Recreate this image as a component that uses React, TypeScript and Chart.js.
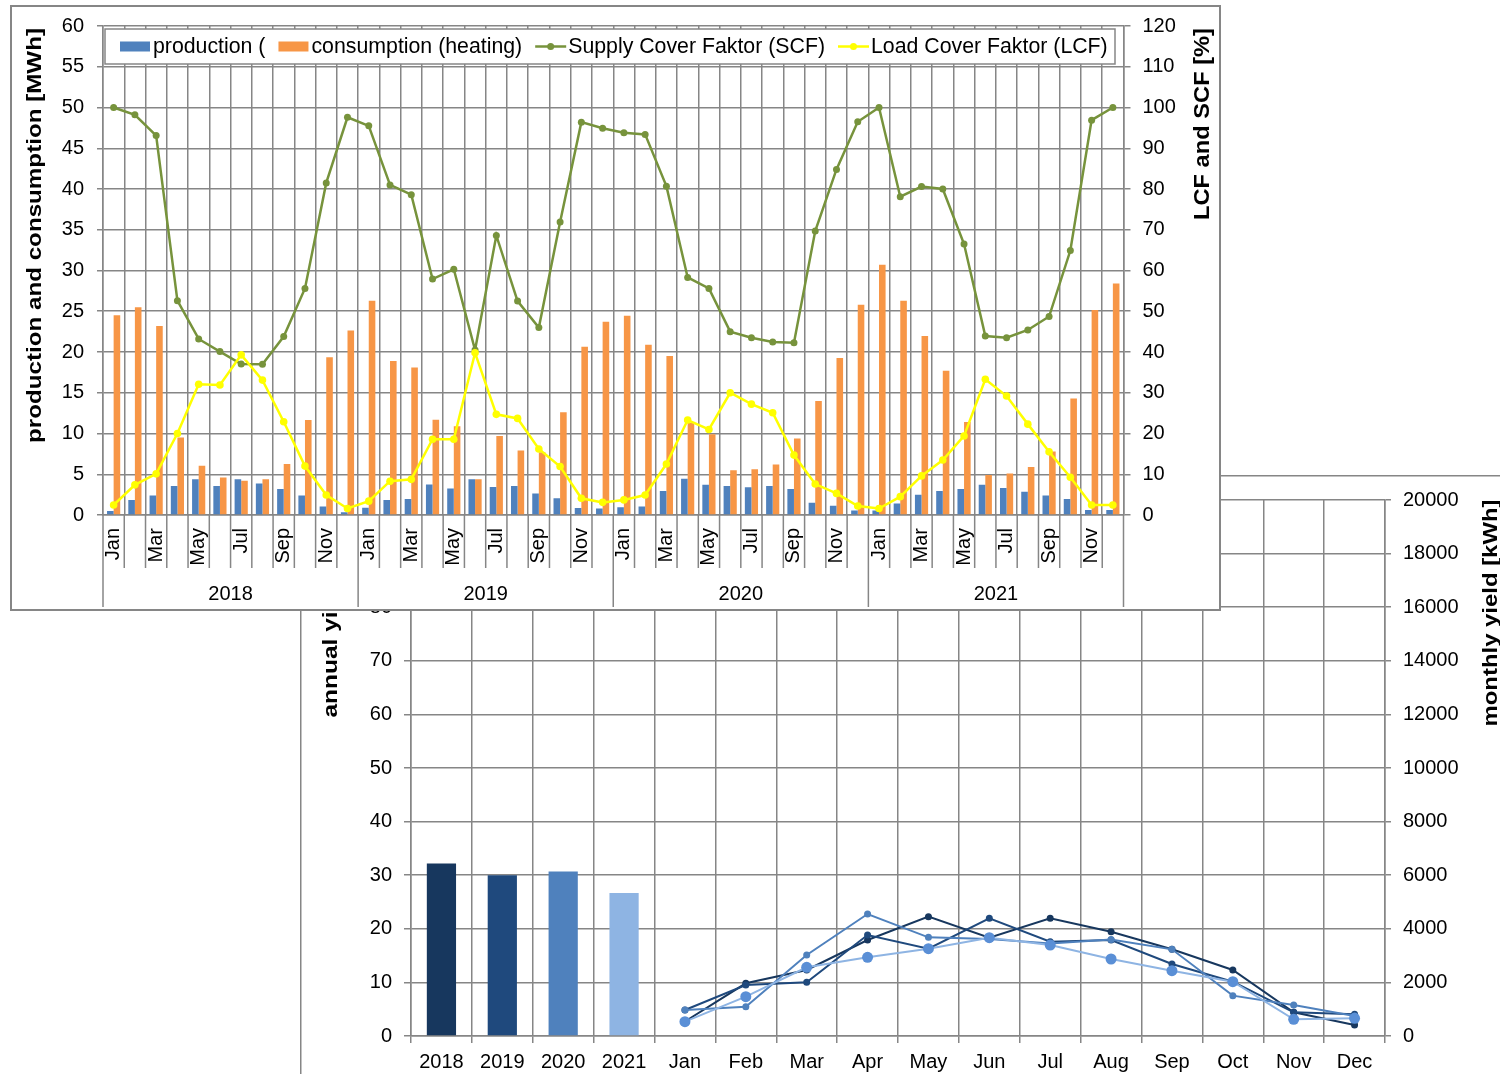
import React, { useEffect, useRef } from 'react';
import { Chart, registerables } from 'chart.js';

Chart.register(...registerables);

const FONT = "'Liberation Sans', Arial, Helvetica, sans-serif";
const GRID = '#868686';

const YEARS = ['2018', '2019', '2020', '2021'];
const MONTHS = ['Jan', 'Feb', 'Mar', 'Apr', 'May', 'Jun', 'Jul', 'Aug', 'Sep', 'Oct', 'Nov', 'Dec'];
const MONTH_LABELS = YEARS.flatMap(() => MONTHS);

// top chart (MWh, %)
const production = [
  0.5, 1.85, 2.4, 3.55, 4.4, 3.55, 4.4, 3.85, 3.2, 2.4, 1.05, 0.35,
  0.9, 1.85, 1.95, 3.75, 3.25, 4.4, 3.45, 3.55, 2.65, 2.05, 0.85, 0.8,
  0.95, 1.05, 2.95, 4.45, 3.7, 3.55, 3.4, 3.55, 3.2, 1.5, 1.15, 0.55,
  0.55, 1.4, 2.5, 2.95, 3.2, 3.7, 3.3, 2.85, 2.4, 1.95, 0.6, 0.6,
];
const consumption = [
  24.5, 25.5, 23.2, 9.5, 6.05, 4.6, 4.2, 4.4, 6.25, 11.65, 19.35, 22.65,
  26.3, 18.9, 18.1, 11.7, 10.9, 4.4, 9.7, 7.9, 7.7, 12.6, 20.65, 23.7,
  24.45, 20.9, 19.5, 11.3, 9.9, 5.5, 5.6, 6.2, 9.4, 14.0, 19.25, 25.8,
  30.7, 26.3, 21.95, 17.7, 11.4, 4.9, 5.1, 5.9, 7.8, 14.3, 25.15, 28.4,
];
const scf = [
  100, 98.2, 93.1, 52.6, 43.2, 40.1, 37.05, 37.0, 43.8, 55.6, 81.5, 97.6,
  95.5, 81.0, 78.6, 57.9, 60.3, 40.5, 68.6, 52.5, 46.0, 71.9, 96.4, 94.9,
  93.8, 93.4, 80.7, 58.3, 55.6, 45.0, 43.5, 42.45, 42.3, 69.7, 84.8, 96.5,
  100, 78.1, 80.6, 80.0, 66.5, 43.9, 43.5, 45.4, 48.7, 64.9, 96.9, 100,
];
const lcf = [
  2.45, 7.4, 10.1, 20, 32.1, 31.9, 39.3, 33.1, 22.9, 12.0, 4.9, 1.6,
  3.4, 8.3, 8.75, 18.6, 18.6, 39.8, 24.7, 23.7, 16.2, 11.9, 4.1, 3.1,
  3.7, 4.9, 12.5, 23.3, 21.0, 30.0, 27.2, 25.1, 14.7, 7.6, 5.3, 2.2,
  1.6, 4.5, 9.6, 13.5, 19.4, 33.3, 29.2, 22.3, 15.5, 9.25, 2.45, 2.45,
];

// bottom chart
const annualYield = [32.2, 30.0, 30.7, 26.7]; // MWh
const monthly2018 = [540, 1966, 2463, 3582, 4453, 3670, 4390, 3893, 3234, 2463, 883, 410];
const monthly2019 = [970, 1900, 2003, 3769, 3259, 4390, 3520, 3582, 2687, 2027, 883, 808];
const monthly2020 = [970, 1095, 3022, 4552, 3682, 3620, 3450, 3600, 3234, 1505, 1157, 750];
const monthly2021 = [534, 1468, 2562, 2935, 3259, 3670, 3396, 2873, 2438, 2027, 622, 659];

const YEAR_COLORS = ['#17375e', '#1f497d', '#4f81bd', '#8eb4e3'];

function drawVText(ctx: CanvasRenderingContext2D, text: string, cx: number, cy: number, font: string, targetLen: number) {
  ctx.save();
  ctx.font = font;
  const w = ctx.measureText(text).width;
  ctx.translate(cx, cy);
  ctx.rotate(-Math.PI / 2);
  ctx.scale(targetLen / w, 1);
  ctx.textAlign = 'center';
  ctx.textBaseline = 'middle';
  ctx.fillStyle = '#000';
  ctx.fillText(text, 0, 0);
  ctx.restore();
}

const App = () => {
  const topRef = useRef<HTMLCanvasElement>(null);
  const botRef = useRef<HTMLCanvasElement>(null);

  useEffect(() => {
    Chart.defaults.font.family = FONT;
    Chart.defaults.color = '#000';

    const botLabels = [...YEARS, ...MONTHS];
    const pad = (arr: number[]) => [null, null, null, null, ...arr];

    const botDecor = {
      id: 'botDecor',
      afterDraw(chart: any) {
        const ctx = chart.ctx as CanvasRenderingContext2D;
        ctx.save();
        ctx.strokeStyle = GRID;
        ctx.lineWidth = 1.5;
        ctx.beginPath();
        ctx.moveTo(0.75, chart.height);
        ctx.lineTo(0.75, 0.75);
        ctx.lineTo(chart.width, 0.75);
        ctx.stroke();
        drawVText(ctx, 'annual yield [MWh]', 31, 131, `bold 21px ${FONT}`, 223);
        drawVText(ctx, 'monthly yield [kWh]', 1191, 138, `bold 21px ${FONT}`, 227);
        ctx.restore();
      },
    };

    const vFit = (w: number) => (s: any) => {
      s.width = w;
      s.paddingTop = 0;
      s.paddingBottom = 0;
    };

    const bottom = new Chart(botRef.current!, {
      type: 'bar',
      data: {
        labels: botLabels,
        datasets: [
          {
            type: 'bar',
            label: 'annual yield',
            data: [...annualYield, ...MONTHS.map(() => null)],
            backgroundColor: YEAR_COLORS,
            yAxisID: 'y',
            barPercentage: 0.48,
            categoryPercentage: 1,
            order: 10,
          } as any,
          ...[monthly2018, monthly2019, monthly2020, monthly2021].map((arr, i) => ({
            type: 'line',
            label: YEARS[i],
            data: pad(arr),
            borderColor: YEAR_COLORS[i],
            backgroundColor: i === 3 ? '#5a8fd6' : YEAR_COLORS[i],
            borderWidth: 2,
            pointRadius: i === 3 ? 5.5 : 3.5,
            pointBorderWidth: 0,
            yAxisID: 'y2',
            order: 4 - i,
            tension: 0,
          })),
        ],
      },
      options: {
        responsive: false,
        animation: false,
        devicePixelRatio: 1,
        layout: { padding: { top: 25, left: 0, right: 0, bottom: 0 } },
        plugins: { legend: { display: false }, tooltip: { enabled: false } },
        scales: {
          x: {
            offset: true,
            grid: { offset: true, color: GRID, lineWidth: 1.5, tickLength: 7 },
            border: { color: GRID, width: 1.5 },
            ticks: { autoSkip: false, maxRotation: 0, padding: 7, font: { size: 20 }, color: '#000' },
            afterFit: (s: any) => { s.height = 38; },
          },
          y: {
            position: 'left',
            min: 0,
            max: 100,
            ticks: { stepSize: 10, padding: 12, font: { size: 20 }, color: '#000' },
            grid: { color: GRID, lineWidth: 1.5, tickLength: 7 },
            border: { color: GRID, width: 1.5 },
            afterFit: vFit(111),
          },
          y2: {
            position: 'right',
            min: 0,
            max: 20000,
            ticks: { stepSize: 2000, padding: 12, font: { size: 20 }, color: '#000', callback: (v: any) => String(v) },
            grid: { drawOnChartArea: false, color: GRID, lineWidth: 1.5, tickLength: 6 },
            border: { color: GRID, width: 1.5 },
            afterFit: vFit(115),
          },
        },
      } as any,
      plugins: [botDecor],
    });

    const topDecor = {
      id: 'topDecor',
      afterDraw(chart: any) {
        const ctx = chart.ctx as CanvasRenderingContext2D;
        const xs = chart.scales.x;
        const area = chart.chartArea;
        const n = MONTH_LABELS.length;
        const w = (xs.right - xs.left) / n;
        ctx.save();
        ctx.strokeStyle = GRID;
        ctx.lineWidth = 1.5;
        for (let i = 0; i <= n; i++) {
          const px = xs.left + i * w;
          const len = i % 12 === 0 ? 92 : 53;
          ctx.beginPath();
          ctx.moveTo(px, area.bottom);
          ctx.lineTo(px, area.bottom + len);
          ctx.stroke();
        }
        ctx.fillStyle = '#000';
        ctx.font = `20px ${FONT}`;
        ctx.textAlign = 'center';
        ctx.textBaseline = 'middle';
        YEARS.forEach((y, k) => {
          ctx.fillText(y, xs.left + (k * 12 + 6) * w, area.bottom + 79);
        });
        // frame
        ctx.lineWidth = 2;
        ctx.strokeRect(1, 1, chart.width - 2, chart.height - 2);
        // axis titles
        drawVText(ctx, 'production and consumption [MWh]', 25, 230.5, `bold 21px ${FONT}`, 415);
        drawVText(ctx, 'LCF and SCF [%]', 1193, 119, `bold 22px ${FONT}`, 192);
        // legend
        const bx = 95, by = 24, bw = 1010, bh = 35;
        ctx.fillStyle = '#fff';
        ctx.fillRect(bx, by, bw, bh);
        ctx.strokeStyle = GRID;
        ctx.lineWidth = 1.5;
        ctx.strokeRect(bx, by, bw, bh);
        const cy = by + bh / 2;
        let x = 110;
        ctx.font = `21.3px ${FONT}`;
        ctx.textAlign = 'left';
        ctx.textBaseline = 'middle';
        chart.data.datasets.forEach((ds: any) => {
          if (ds.type === 'bar') {
            ctx.fillStyle = ds.backgroundColor;
            ctx.fillRect(x, cy - 5, 30, 10);
          } else {
            ctx.strokeStyle = ds.borderColor;
            ctx.lineWidth = 2.5;
            ctx.beginPath();
            ctx.moveTo(x, cy);
            ctx.lineTo(x + 31, cy);
            ctx.stroke();
            ctx.fillStyle = ds.borderColor;
            ctx.beginPath();
            ctx.arc(x + 15.5, cy, 3.5, 0, Math.PI * 2);
            ctx.fill();
          }
          ctx.fillStyle = '#000';
          ctx.fillText(ds.label, x + 33, cy + 1);
          x += 33 + ctx.measureText(ds.label).width + 13;
        });
        ctx.restore();
      },
    };

    const top = new Chart(topRef.current!, {
      type: 'bar',
      data: {
        labels: MONTH_LABELS,
        datasets: [
          { type: 'bar', label: 'production (', data: production, backgroundColor: '#4f81bd', yAxisID: 'y', order: 3, categoryPercentage: 0.62, barPercentage: 1 },
          { type: 'bar', label: 'consumption (heating)', data: consumption, backgroundColor: '#f79646', yAxisID: 'y', order: 3, categoryPercentage: 0.62, barPercentage: 1 },
          { type: 'line', label: 'Supply Cover Faktor (SCF)', data: scf, borderColor: '#77933c', backgroundColor: '#77933c', borderWidth: 2.5, pointRadius: 3.5, pointBorderWidth: 0, yAxisID: 'y2', order: 2, tension: 0 },
          { type: 'line', label: 'Load Cover Faktor (LCF)', data: lcf, borderColor: '#ffff00', backgroundColor: '#ffff00', borderWidth: 2.5, pointRadius: 3.8, pointBorderWidth: 0, yAxisID: 'y2', order: 1, tension: 0 },
        ] as any,
      },
      options: {
        responsive: false,
        animation: false,
        devicePixelRatio: 1,
        layout: { padding: { top: 21, left: 0, right: 0, bottom: 0 } },
        plugins: { legend: { display: false }, tooltip: { enabled: false } },
        scales: {
          x: {
            offset: true,
            grid: { offset: true, color: GRID, lineWidth: 1.5, drawTicks: false },
            border: { color: GRID, width: 1.5 },
            ticks: {
              autoSkip: false,
              maxRotation: 90,
              minRotation: 90,
              padding: 13,
              font: { size: 20 },
              color: '#000',
              callback: (_v: any, i: number) => (i % 2 === 0 ? MONTH_LABELS[i] : ''),
            },
            afterFit: (s: any) => { s.height = 96; },
          },
          y: {
            position: 'left',
            min: 0,
            max: 60,
            ticks: { stepSize: 5, padding: 13, font: { size: 20 }, color: '#000' },
            grid: { color: GRID, lineWidth: 1.5, tickLength: 6 },
            border: { color: GRID, width: 1.5 },
            afterFit: vFit(93),
          },
          y2: {
            position: 'right',
            min: 0,
            max: 120,
            ticks: { stepSize: 10, padding: 12, font: { size: 20 }, color: '#000' },
            grid: { drawOnChartArea: false, color: GRID, lineWidth: 1.5, tickLength: 7 },
            border: { color: GRID, width: 1.5 },
            afterFit: vFit(97.5),
          },
        },
      } as any,
      plugins: [topDecor],
    });

    return () => {
      top.destroy();
      bottom.destroy();
    };
  }, []);

  return (
    <div style={{ position: 'absolute', left: 0, top: 0, width: 1500, height: 1074, overflow: 'hidden', background: '#fff' }}>
      <canvas ref={botRef} width={1200} height={599} style={{ position: 'absolute', left: 300, top: 475, width: 1200, height: 599 }} />
      <canvas ref={topRef} width={1211} height={606} style={{ position: 'absolute', left: 10, top: 5, width: 1211, height: 606, background: '#fff' }} />
    </div>
  );
};

export default App;
